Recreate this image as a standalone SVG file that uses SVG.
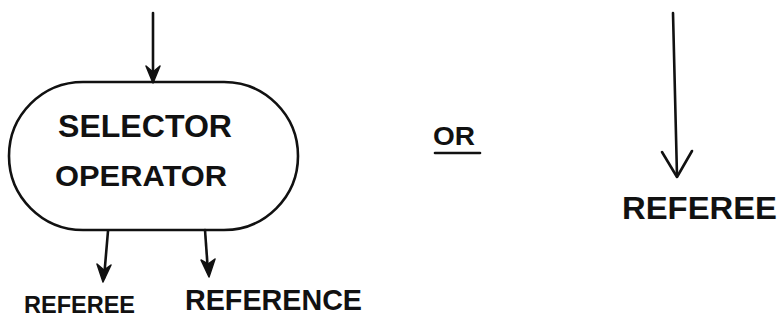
<svg xmlns="http://www.w3.org/2000/svg" width="784" height="326" viewBox="0 0 784 326">
<style>
.ln{fill:none;stroke:#111;stroke-width:2.6;stroke-linecap:round;stroke-linejoin:round}
.hd{fill:#111;stroke:#111;stroke-width:1.5;stroke-linejoin:round}
.t{font-family:"Liberation Sans",Arial,sans-serif;fill:#111;font-weight:bold}
</style>
<rect width="784" height="326" fill="#fff"/>
<g id="connectors">
<path class="ln" d="M153 13 L153 80"/>
<path class="hd" d="M146 66 L153 83 L160 66 L153 72 Z"/>
<path class="ln" d="M108 231 L104 278"/>
<path class="hd" d="M97 264 L103 282 L111 265 L104 270 Z"/>
<path class="ln" d="M205 230 L208 272"/>
<path class="hd" d="M201 260 L209 277 L215 259 L208 264 Z"/>
<path class="ln" d="M673 13 L677 176"/>
<path class="ln" d="M662 152 L677 177 L692 151"/>
</g>
<g id="selector-operator">
<path class="ln" d="M83 82 L224 82 A74 74 0 0 1 224 230 L83 230 A74 74 0 0 1 83 82 Z"/>
<text class="t" x="58" y="137" font-size="32" textLength="174" lengthAdjust="spacingAndGlyphs">SELECTOR</text>
<text class="t" x="55" y="186" font-size="30" textLength="172" lengthAdjust="spacingAndGlyphs">OPERATOR</text>
</g>
<g id="referee-left">
<text class="t" x="24" y="313" font-size="24" textLength="111" lengthAdjust="spacingAndGlyphs">REFEREE</text>
</g>
<g id="reference">
<text class="t" x="185" y="310" font-size="30" textLength="177" lengthAdjust="spacingAndGlyphs">REFERENCE</text>
</g>
<g id="or">
<text class="t" x="433" y="145" font-size="25" textLength="42" lengthAdjust="spacingAndGlyphs">OR</text>
<path class="ln" d="M435 153 L480 153"/>
</g>
<g id="referee-right">
<text class="t" x="622" y="219" font-size="31" textLength="155" lengthAdjust="spacingAndGlyphs">REFEREE</text>
</g>
</svg>
